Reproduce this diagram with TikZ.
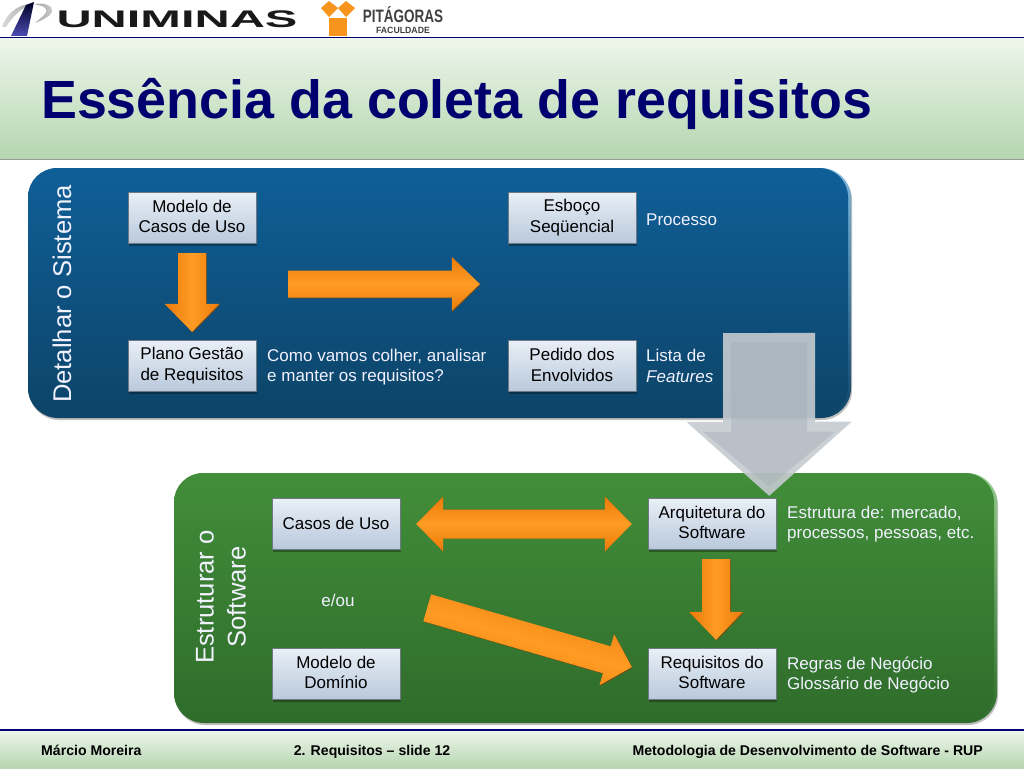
\documentclass[tikz,border=0pt]{standalone}
\usepackage{fontspec}
\setmainfont{Liberation Sans}
\usetikzlibrary{calc}
\definecolor{navytitle}{HTML}{00006E}
\definecolor{arrowlight}{HTML}{FF9C24}
\definecolor{arrowdark}{HTML}{EA7A0A}
\definecolor{arrowedge}{HTML}{7A4A12}
\definecolor{logoorange}{HTML}{F7941D}
\definecolor{barlight}{HTML}{EEF6EC}
\definecolor{bardark}{HTML}{B5D6B0}
\definecolor{bluetop}{HTML}{0F5F98}
\definecolor{bluebot}{HTML}{0D4468}
\definecolor{bluerim}{HTML}{7FB8DC}
\definecolor{greentop}{HTML}{428E3A}
\definecolor{greenbot}{HTML}{2F6C2B}
\definecolor{greenrim}{HTML}{92CC8C}
\definecolor{boxtop}{HTML}{E9EFF6}
\definecolor{boxbot}{HTML}{B9C9DC}
\definecolor{greyouter}{HTML}{C6CBD0}
\definecolor{greyinner}{HTML}{A4AEB8}
\newcommand{\linestrut}{\rule[-2pt]{0pt}{20.5pt}}
\newcommand{\footstrut}{\rule[-4pt]{0pt}{18pt}}
\tikzset{
  x=1pt,y=-1pt,
  struts/.style={execute at begin node=\linestrut,execute at end node=\linestrut},
  oneline/.style={execute at begin node={\rule[-7pt]{0pt}{10pt}}},
  reqbox/.style={struts,draw=boxbot!60!black,line width=.4pt,top color=boxtop,bottom color=boxbot,
    text=black,minimum width=128pt,minimum height=51pt,inner sep=0pt,align=center,font=\fontsize{17}{20.5}\selectfont},
  boxshadow/.style={fill=black,opacity=.3},
  note/.style={struts,text=white!95!blue,anchor=west,inner sep=0pt,align=left,font=\fontsize{17}{20.5}\selectfont},
  sidelabel/.style={text=white!95!blue,rotate=90,align=center,inner sep=0pt,font=\fontsize{25.6}{32}\selectfont},
  foot/.style={execute at begin node=\footstrut,inner sep=0pt,font=\fontsize{14.1}{16}\selectfont\bfseries},
  orangearrow/.style={top color=arrowdark,bottom color=arrowdark,middle color=arrowlight},
  arrowback/.style={fill=arrowedge,opacity=.85},
}
% from, to, half shaft, half head, head length, style
\newcommand{\bigarrow}[6]{
  \coordinate (hb) at ($(#2)!#5pt!(#1)$);
  \path[#6] ($(#1)!#3pt!90:(#2)$) -- ($(hb)!#3pt!90:(#2)$) -- ($(hb)!#4pt!90:(#2)$) -- (#2)
    -- ($(hb)!#4pt!-90:(#2)$) -- ($(hb)!#3pt!-90:(#2)$) -- ($(#1)!#3pt!-90:(#2)$) -- cycle;
}
\newcommand{\orangearrow}[6]{
  \bigarrow{$(#1)+(.8,.8)$}{$(#2)+(.8,.8)$}{#3}{#4}{#5}{arrowback}
  \bigarrow{#1}{#2}{#3}{#4}{#5}{orangearrow,shading angle=#6}
}
\begin{document}
\begin{tikzpicture}
  \useasboundingbox (0,0) rectangle (1024,768);
  \fill[white] (0,0) rectangle (1024,768);

  % logos
  \shade[left color=gray!30,right color=gray!70] (2,27) .. controls (8,10) and (22,3) .. (34,4)
    .. controls (24,6) and (14,14) .. (6,27) -- cycle;
  \shade[left color=gray!70,right color=gray!40] (34,4) .. controls (44,2) and (54,6) .. (52,12)
    .. controls (50,17) and (42,20) .. (35,23) .. controls (42,17) and (48,13) .. (46,9) .. controls (44,6) and (38,5) .. (34,4) -- cycle;
  \shade[top color=black!85!blue,bottom color=blue!40!gray] (11,36) -- (26,5) -- (34,2) -- (27,36) -- cycle;
  \node[inner sep=0pt,xscale=2.03,font=\fontsize{24}{24}\selectfont\bfseries,text=black!90] (uniminas) at (177,19) {UNIMINAS};
  \fill[logoorange] (329,18) rectangle (347,36);
  \fill[logoorange] (321,8) -- (329,1) -- (338,8) -- (329,17) -- cycle;
  \fill[logoorange] (338,8) -- (346,1) -- (355,8) -- (346,17) -- cycle;
  \node[inner sep=0pt,xscale=.75,font=\fontsize{18}{18}\selectfont\bfseries,text=black!75] (pitagoras) at (403,15) {PITÁGORAS};
  \node[inner sep=0pt,xscale=.97,font=\fontsize{9}{9}\selectfont\bfseries,text=black!75] (faculdade) at (403,30.5) {FACULDADE};

  % title bar
  \fill[black!40] (0,158) rectangle (1024,160);
  \shade[top color=barlight,bottom color=bardark] (0,38) rectangle (1024,158);
  \draw[navytitle,line width=1.2pt] (0,37.5) -- (1024,37.5);
  \node[anchor=west,inner sep=0pt,text=navytitle,font=\fontsize{53.8}{60}\selectfont\bfseries] (title) at (41,104) {Essência da coleta de requisitos};

  % blue panel
  \fill[black!25,rounded corners=30pt] (29,170) rectangle (852,420);
  \shade[rounded corners=30pt,top color=bluerim,bottom color=bluebot] (28,168) rectangle (851,418);
  \shade[rounded corners=29pt,top color=bluetop,bottom color=bluebot] (28,168) rectangle (848,416);

  % green panel
  \fill[black!25,rounded corners=30pt] (175,475) rectangle (998,725);
  \shade[rounded corners=30pt,top color=greenrim,bottom color=greenbot] (174,473) rectangle (997,723);
  \shade[rounded corners=29pt,top color=greentop,bottom color=greenbot] (174,473) rectangle (994,721);

  \node[sidelabel] (detalhar) at (62,294) {Detalhar o Sistema};
  \node[sidelabel] (estruturar) at (221,597) {Estruturar o\\Software};

  % boxes
  \foreach \px/\py in {192/217.5,572/217.5,192/365.5,572/366,336/523.5,712/523.5,336/673.5,712/673.5}
    \fill[boxshadow] (\px-63,\py-24) rectangle (\px+65,\py+28);
  \node[reqbox] (modelo) at (192,217.5) {Modelo de\\Casos de Uso};
  \node[reqbox] (esboco) at (572,217.5) {Esboço\\Seqüencial};
  \node[reqbox] (plano) at (192,365.5) {Plano Gestão\\de Requisitos};
  \node[reqbox] (pedido) at (572,366) {Pedido dos\\Envolvidos};
  \node[reqbox,oneline] (casos) at (336,523.5) {Casos de Uso};
  \node[reqbox] (arquitetura) at (712,523.5) {Arquitetura do\\Software};
  \node[reqbox] (dominio) at (336,673.5) {Modelo de\\Domínio};
  \node[reqbox] (requisitos) at (712,673.5) {Requisitos do\\Software};

  % notes
  \node[note,oneline] (processo) at (646,220) {Processo};
  \node[note] (como) at (267,367) {Como vamos colher, analisar\\e manter os requisitos?};
  \node[note] (lista) at (646,367) {Lista de\\\textit{Features}};
  \node[note] (estrutura) at (787,524) {Estrutura de: mercado,\\processos, pessoas, etc.};
  \node[note] (regras) at (787,675) {Regras de Negócio\\Glossário de Negócio};
  \node[text=white!95!blue,inner sep=0pt,font=\fontsize{17}{20}\selectfont] (eou) at (338,600) {e/ou};

  % orange arrows
  \orangearrow{$(modelo.south)+(0,10)$}{$(plano.north)+(0,-8)$}{14}{27.5}{28}{90}
  \coordinate (horstart) at ($(modelo.east)+(32,66.5)$);
  \coordinate (horend) at ($(esboco.west)+(-28,66.5)$);
  \orangearrow{horstart}{horend}{13.5}{27}{28}{0}
  \orangearrow{$(arquitetura.south)+(4,10)$}{$(requisitos.north)+(4,-8)$}{14}{27}{28}{90}
  \orangearrow{$(dominio.north east)+(27,-40)$}{$(requisitos.west)+(-16,-6.5)$}{14}{26.5}{26}{-16}
  % double arrow
  \coordinate (dblleft) at ($(casos.east)+(16,0.5)$);
  \coordinate (dblright) at ($(arquitetura.west)+(-16,0.5)$);
  \path[arrowback,shift={(.8,.8)}] (dblleft) -- ++(27,-27.5) -- ++(0,13) -- ($(dblright)+(-27,-14.5)$) -- ++(0,-13) -- (dblright)
    -- ++(-27,27.5) -- ++(0,-13) -- ($(dblleft)+(27,14.5)$) -- ++(0,13) -- cycle;
  \path[orangearrow] (dblleft) -- ++(27,-27.5) -- ++(0,13) -- ($(dblright)+(-27,-14.5)$) -- ++(0,-13) -- (dblright)
    -- ++(-27,27.5) -- ++(0,-13) -- ($(dblleft)+(27,14.5)$) -- ++(0,13) -- cycle;

  % grey arrow
  \coordinate (greytop) at (769,333);
  \coordinate (greytip) at ($(arquitetura.north east)+(-7,-2)$);
  \coordinate (greyin) at (769,342);
  \coordinate (greyintip) at ($(greytip)+(0,-9)$);
  \bigarrow{greytop}{greytip}{46}{82.5}{74}{fill=greyouter,opacity=.9}
  \bigarrow{greyin}{greyintip}{38}{66}{55}{fill=greyinner,opacity=.45}

  % footer
  \shade[top color=barlight,bottom color=bardark] (0,730) rectangle (1024,768);
  \draw[navytitle,line width=1.2pt] (0,730) -- (1024,730);
  \node[foot,anchor=west] (autor) at (41,750) {Márcio Moreira};
  \node[foot] (slide) at (372,750) {2. Requisitos – slide 12};
  \node[foot,anchor=east] (curso) at (983,750) {Metodologia de Desenvolvimento de Software - RUP};
\end{tikzpicture}
\end{document}
